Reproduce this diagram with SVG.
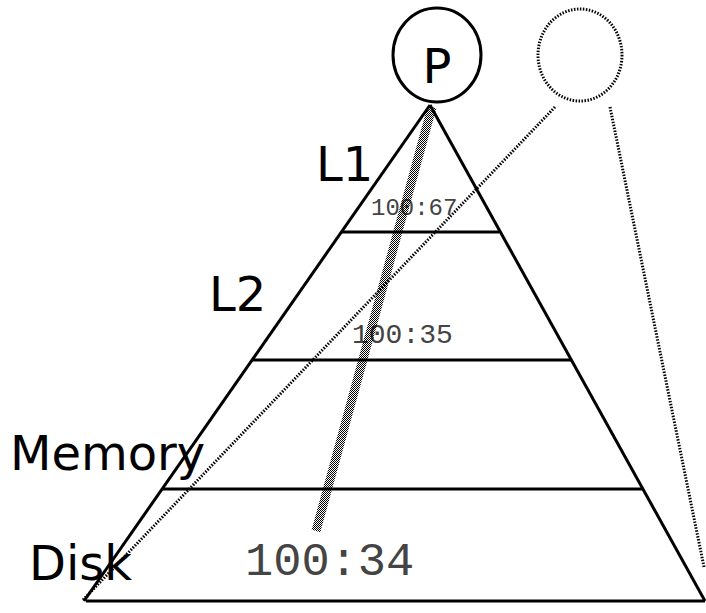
<svg xmlns="http://www.w3.org/2000/svg" width="706" height="613" viewBox="0 0 706 613">
<defs>
<pattern id="chk" width="2" height="2" patternUnits="userSpaceOnUse">
<rect width="1" height="1" fill="#000"/>
<rect x="1" y="1" width="1" height="1" fill="#000"/>
</pattern>
</defs>
<style>
.edge{stroke:#000;stroke-width:3;fill:none}
.lbl{font-family:"DejaVu Sans",Verdana,sans-serif;font-size:48px;fill:#000}
.ratio{font-family:"Liberation Mono","Courier New",monospace;fill:#444}
.dots{stroke:#000;stroke-width:3;stroke-dasharray:1.5 1.5;fill:none}
</style>
<rect width="706" height="613" fill="#fff"/>
<g id="pyramid">
<line class="edge" x1="430" y1="105" x2="84" y2="601"/>
<line class="edge" x1="430" y1="105" x2="705" y2="601"/>
<line class="edge" x1="342" y1="232" x2="499" y2="232"/>
<line class="edge" x1="252" y1="360" x2="571" y2="360"/>
<line class="edge" x1="162" y1="489" x2="643" y2="489"/>
<line class="edge" x1="86" y1="601" x2="705" y2="601"/>
</g>
<g id="processor">
<ellipse class="edge" cx="437" cy="55" rx="44" ry="47" fill="#fff"/>
<text class="lbl" x="437" y="83" text-anchor="middle">P</text>
</g>
<g id="ghost-processor">
<ellipse class="dots" cx="580" cy="55" rx="42" ry="46"/>
</g>
<g id="level-L1"><text class="lbl" x="316" y="181">L1</text></g>
<g id="level-L2"><text class="lbl" x="209" y="311">L2</text></g>
<g id="level-memory"><text class="lbl" x="10" y="470">Memory</text></g>
<g id="level-disk"><text class="lbl" x="29" y="580">Disk</text></g>
<g id="ratios">
<text class="ratio" x="371" y="215" font-size="24">100:67</text>
<text class="ratio" x="352" y="343" font-size="28">100:35</text>
<text class="ratio" x="245" y="575" font-size="47">100:34</text>
</g>
<g id="connectors">
<line stroke="url(#chk)" stroke-width="9" x1="432" y1="107" x2="316" y2="531"/>
<line class="dots" x1="555" y1="107" x2="83" y2="600"/>
<line class="dots" x1="610" y1="107" x2="704" y2="567"/>
</g>
</svg>
